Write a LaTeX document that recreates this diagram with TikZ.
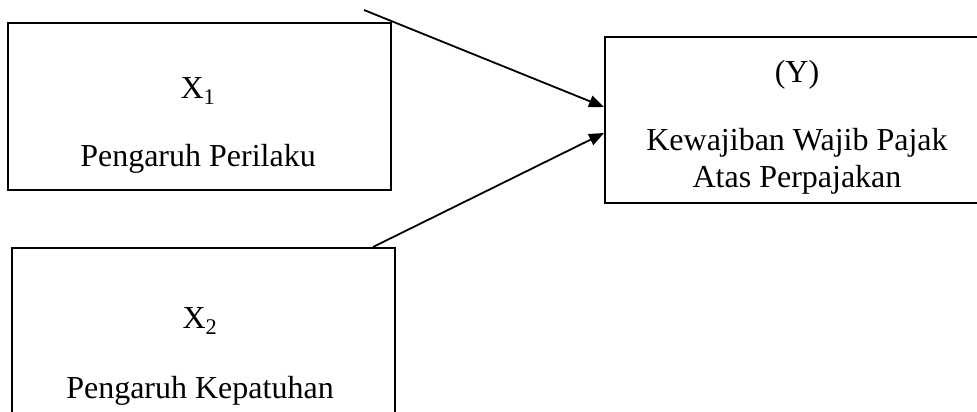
\documentclass[tikz,border=0pt]{standalone}
\usepackage{fontspec}
\setmainfont{Liberation Serif}
\usetikzlibrary{arrows.meta,calc}
\begin{document}
\begin{tikzpicture}[x=1pt,y=-1pt,
  box/.style={draw, line width=2pt, rectangle, inner sep=0pt},
  lbl/.style={font=\fontsize{32}{36}\selectfont, anchor=base, inner sep=0pt},
  conn/.style={line width=1.8pt, -{Triangle[length=15pt,width=12pt]}}]
\useasboundingbox (0,0) rectangle (977,412);
\clip (0,0) rectangle (977,412);
% boxes
\node[box, minimum width=383pt, minimum height=167pt] (X1) at (199.5,106.5) {};
\node[box, minimum width=383pt, minimum height=182pt] (X2) at (203.5,339) {};
\node[box, minimum width=390pt, minimum height=166pt] (Y) at (800,120) {};
% texts
\node[lbl] (tX1) at (198,98) {X\textsubscript{1}};
\node[lbl] (tP1) at (198,166) {Pengaruh Perilaku};
\node[lbl] (tX2) at (200,328) {X\textsubscript{2}};
\node[lbl] (tP2) at (200,398) {Pengaruh Kepatuhan};
\node[lbl] (tY) at (797,82) {(Y)};
\node[lbl] (tY1) at (797,150) {Kewajiban Wajib Pajak};
\node[lbl] (tY2) at (797,187) {Atas Perpajakan};
% connectors
\coordinate (s1) at (364,10);
\coordinate (s2) at ($(X2.north east)+(-23,0)$);
\coordinate (e1) at ($(Y.west)+(0,-13)$);
\coordinate (e2) at ($(Y.west)+(0,13)$);
\draw[conn] (s1) -- (e1);
\draw[conn] (s2) -- (e2);
\end{tikzpicture}
\end{document}
